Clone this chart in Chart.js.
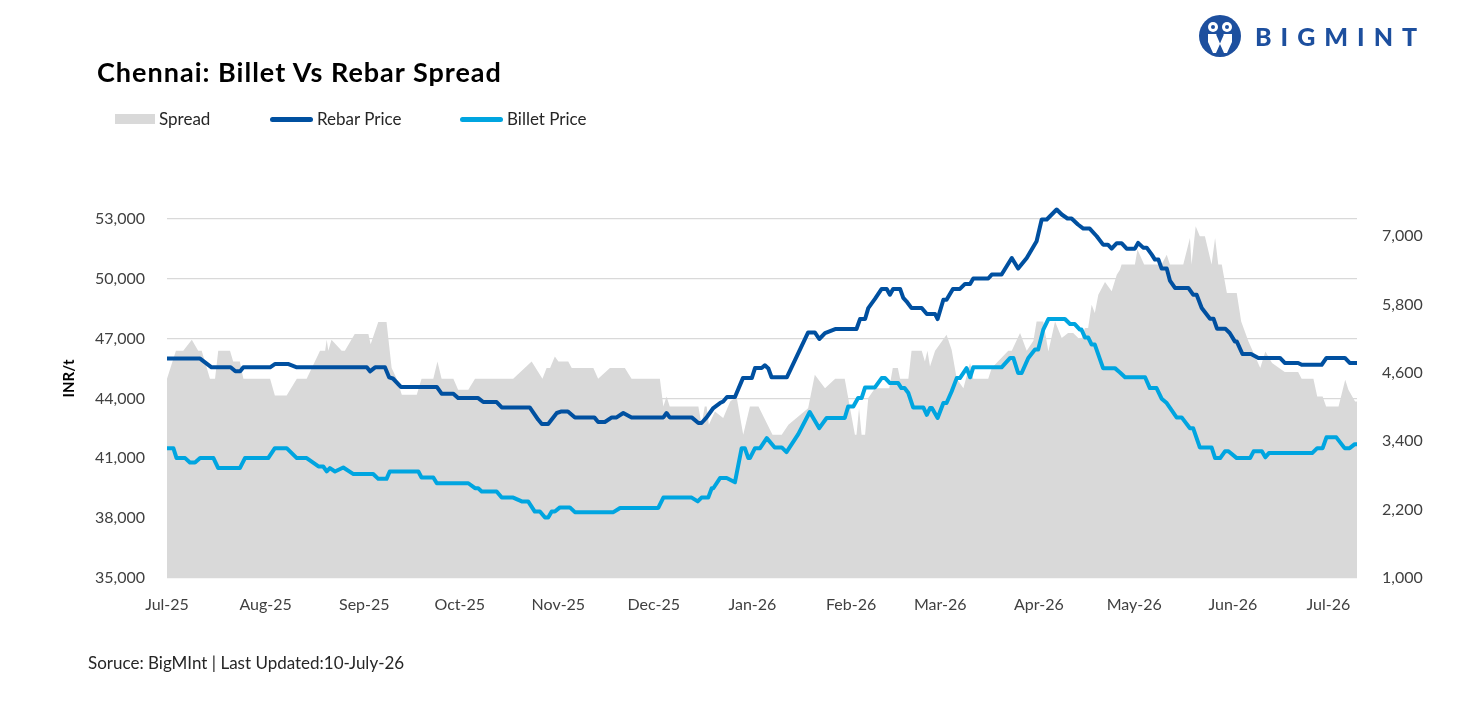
<!DOCTYPE html>
<html>
<head>
<meta charset="utf-8">
<script src="https://cdn.jsdelivr.net/npm/chart.js@4.4.1/dist/chart.umd.min.js"></script>
<style>
  body { margin: 0; background: #fff; font-family: Lato, sans-serif; color: #000; }
  #wrap { position: relative; width: 1484px; height: 701px; overflow: hidden; }
  #chart { position: absolute; left: 0; top: 0; }
  #title { position: absolute; left: 97px; top: 56px; font-size: 27px; line-height: 32px; letter-spacing: 1px; font-weight: bold; white-space: nowrap; }
  #legend { position: absolute; left: 115px; top: 109px; display: flex; font-size: 17px; line-height: 20px; color: #262626; }
  .item { display: flex; align-items: center; }
  .item .sw { margin-right: 4px; }
  #source { position: absolute; left: 88px; top: 652px; font-size: 17px; line-height: 21px; color: #262626; white-space: nowrap; }
  #logo { position: absolute; left: 1199px; top: 15px; display: flex; align-items: center; }
  #logo span { margin-left: 14px; font-size: 25px; font-weight: 900; letter-spacing: 9px; color: #1d4f9e; }
</style>
</head>
<body>
<div id="wrap">
  <canvas id="chart" width="1484" height="701"></canvas>
  <div id="title">Chennai: Billet Vs Rebar Spread</div>
  <div id="legend"></div>
  <div id="source">Soruce: BigMInt | Last Updated:10-July-26</div>
  <div id="logo">
    <svg width="42" height="42" viewBox="0 0 42 42">
      <circle cx="21" cy="21" r="21" fill="#1d4f9e"/>
      <circle cx="14" cy="12" r="5" fill="#fff"/>
      <circle cx="28" cy="12" r="5" fill="#fff"/>
      <circle cx="14" cy="12" r="2" fill="#1d4f9e"/>
      <circle cx="28" cy="12" r="2" fill="#1d4f9e"/>
      <path d="M9 19 h9 l3 7 l3 -7 h9 v8 l-5 11 h-3 l-4 -9 l-4 9 h-3 l-5 -11 z" fill="#fff"/>
      <path d="M18 19 l3 7 l3 -7" stroke="#1d4f9e" stroke-width="2" fill="none"/>
    </svg>
    <span>BIGMINT</span>
  </div>
</div>
<script>
// asse x: giorni dal 1 luglio 2025
const START = Date.UTC(2025, 6, 1);
const dayOf = s => Math.round((Date.parse(s) - START) / 86400000);

const monthStarts = ['2025-07-01','2025-08-01','2025-09-01','2025-10-01','2025-11-01','2025-12-01',
  '2026-01-01','2026-02-01','2026-03-01','2026-04-01','2026-05-01','2026-06-01','2026-07-01'];
const monthLabels = ['Jul-25','Aug-25','Sep-25','Oct-25','Nov-25','Dec-25',
  'Jan-26','Feb-26','Mar-26','Apr-26','May-26','Jun-26','Jul-26'];
const lastDate = '2026-07-10';

const leftTicks = [35000, 38000, 41000, 44000, 47000, 50000, 53000];
const rightTicks = [1000, 2200, 3400, 4600, 5800, 7000];

// Rebar Price (INR/t)
const rebarDays = [0,10.4,14,20,21.5,23,24,32.4,34,38,40.8,62.8,63.8,65.4,68.5,69.8,71,73.5,84.8,86.3,
  90,91.5,97.8,99.4,103.6,105.2,114,116.7,117.8,119.8,122.5,124,126,128.2,134.3,135.5,137.6,139.8,141.3,143.4,
  146,156,157,158,164.9,167,168,169.6,171.7,173.8,174.8,176,178.5,181,183.8,184.8,186.9,187.9,189,190,
  194.8,201.5,203.6,205,206.8,210,216.7,217.8,219.4,220.4,222.5,224.6,226.2,227.2,228.2,230.4,231.4,232.4,234,237.2,
  238.8,241.4,242.2,244,245,247,249.2,250.8,252.4,253.4,258.1,259.2,262.3,265.5,267.5,270.2,273.3,274.9,276.5,279.6,
  281.2,283,284.3,286.3,288,290,292.2,294.2,295.7,296.9,298.5,300,301.6,304.2,305.2,306.8,307.9,309.5,310.5,311.6,
  312.6,314.2,315.2,316.8,321,322.5,323.6,325.2,327.8,328.9,330,332.6,334,335.6,336.2,338,340.7,343,349.8,351.3,
  355.5,356.6,362.9,364.4,370.2,371.7,374];
const rebarPrice = [46000,46000,45560,45560,45360,45360,45560,45560,45730,45730,45560,45560,45360,45560,45560,45060,45000,44580,44580,44240,
  44240,44020,44020,43820,43820,43550,43550,42930,42720,42720,43270,43350,43350,43050,43050,42820,42820,43050,43050,43270,
  43050,43050,43270,43050,43050,42770,42770,43050,43520,43770,43850,44070,44070,45020,45020,45525,45525,45660,45500,45060,
  45060,47310,47310,46980,47280,47480,47480,47980,47980,48530,48990,49490,49490,49200,49490,49490,49040,48870,48530,48530,
  48230,48230,47980,48950,48950,49490,49490,49740,49740,50010,50010,50210,50210,51040,50510,51040,51880,52970,52970,53470,
  53220,53020,53020,52720,52515,52515,52130,51710,51710,51510,51780,51780,51510,51510,51800,51560,51560,51210,50960,50960,
  50510,50510,49910,49540,49540,49200,49200,48530,48000,48000,47500,47500,47280,46860,46860,46230,46230,46030,46030,45780,
  45780,45690,45690,46030,46030,45780,45780];

// Billet Price (INR/t)
const billetDays = [0,2,3,5.7,7.2,8.8,10.4,14.6,16.1,22.9,24.5,31.8,33.9,37.6,40.8,43.9,47.6,49.1,50.2,51.2,
  52.8,55.4,58.6,64.8,66.4,69,70,79,80,83.7,84.8,94.7,96.8,97.8,98.9,103.6,105.2,108.8,111.5,113.5,
  115.6,117.2,118.8,119.8,120.9,121.9,123.5,126.6,128.2,140.3,142.4,154.4,156,164.9,166.8,168,170.1,171.2,171.7,173.8,
  175.9,178.5,180.6,181.6,182.7,183.2,184.8,186.4,188.5,191,193.2,194.7,198.4,202,205,207.3,213,214.1,215.7,217.2,
  218.3,219.4,222.5,224.6,225.7,227.2,229.8,230.8,231.8,233,234.5,237.7,238.8,239.8,240.4,242.2,244,245,246.6,248.2,
  249.2,251.3,252.4,253.4,262.3,265,266,267.5,268.6,270.7,272.8,273.8,275.4,277,282.2,283.8,285.3,286.9,287.4,288.5,
  289.5,290.6,291.6,294.2,297.9,299.5,301.1,307.4,308.9,311,312.6,314.2,317.3,318.9,321.5,322.5,324.6,328.3,329.4,331,
  332.5,333.6,336.2,340.4,341.5,344.1,345.2,346.3,359.9,361.5,363.2,364.4,367.5,370.1,371.7,373.3,374];
const billetPrice = [41510,41510,41010,41010,40790,40790,41010,41010,40510,40510,41010,41010,41510,41510,41010,41010,40590,40590,40340,40510,
  40340,40540,40210,40210,39970,39970,40340,40340,40040,40040,39750,39750,39500,39500,39340,39340,39030,39030,38840,38840,
  38330,38330,38030,38030,38330,38330,38540,38540,38300,38300,38510,38510,39030,39030,38840,39030,39030,39500,39500,40010,
  40010,39800,41510,41510,41010,41010,41510,41510,42010,41545,41545,41310,42210,43320,42510,43020,43020,43600,43600,44020,
  44020,44555,44555,45020,45020,44770,44770,44520,44520,44270,43550,43550,43180,43520,43520,43020,43770,43770,44350,45020,
  45020,45520,45060,45560,45560,46030,46030,45275,45275,46030,46450,46450,47450,47980,47980,47730,47730,47450,47450,47060,
  47060,46700,46700,45520,45520,45300,45060,45060,44520,44520,43990,43770,43050,43050,42510,42510,41545,41545,41010,41010,
  41350,41350,41010,41010,41350,41350,41050,41260,41260,41510,41510,42050,42050,41510,41510,41710,41710];

// Spread (asse destro)
const spreadDays = [0,2.8,5.1,7.8,9.8,10.9,13.5,15.1,16.1,19.8,20.8,22.9,24,32.4,33.9,37.6,40.8,43.9,48.1,49.7,
  50.2,50.7,51.7,54.9,55.9,59,63.3,64,66.4,69,70.6,72.2,73.8,78.5,80,83.7,85,86.3,90,91.5,
  94.7,96.8,108.8,114.6,118,119.3,120.4,121.9,123,126.1,127.2,134,135.5,139.2,143.9,146,154.9,156,157,158,
  167,168,169,169.6,170.3,172.2,174.8,177,179,181.1,183.2,185.9,190.3,193.2,195.3,198.4,201.5,203.6,206.8,210,
  213,216.2,216.7,217.5,218.3,219.4,220.4,222.5,227,228.1,229.7,230.4,233,234,237.2,238.2,239,239.8,241.4,243.5,
  245,246.6,248.2,250.3,252.4,253.4,258.1,259.2,264.4,265.5,268.1,270.2,272.3,273.3,275.4,277,279.1,281.2,283.2,284.8,
  286.4,287.5,288.5,289.5,290.6,291.6,292.7,294.8,296.9,298.5,299.5,300,304.2,305,307.1,312.6,314.2,315.2,319.4,321.5,
  322,323.3,324.6,326.2,328.3,329.4,330.4,331.5,333.1,336.2,337.6,339.9,343.6,345.2,347.3,351.3,355.5,356.6,360.3,361.5,
  363.2,364.3,368.2,370.3,371.3,373.4,374];
const spreadValue = [4495,4987,4987,5180,4987,4987,4495,4495,4987,4987,4800,4800,4495,4495,4203,4203,4495,4495,4987,4987,
  5180,4987,5180,4987,4987,5280,5280,5100,5490,5490,4683,4495,4214,4214,4495,4495,4800,4495,4495,4302,
  4302,4495,4495,4800,4495,4683,4683,4888,4800,4800,4683,4683,4495,4683,4683,4495,4495,4009,4185,4009,
  4009,3687,4009,4009,3687,3922,3805,4097,4185,3512,4009,4009,3512,3512,3687,3834,3980,4566,4331,4495,
  4495,3512,3512,3980,3512,3512,4156,4331,4331,4683,4683,4495,4495,4987,4987,4800,4987,4712,4987,5151,
  5268,5005,4495,4331,4770,4495,4495,4683,4987,4987,5297,4987,5163,5502,5502,4975,5502,5210,5297,5297,
  5210,5210,5385,5385,5795,5649,5971,6193,6029,6322,6410,6498,6498,6761,6498,6498,6673,6498,6498,6966,
  6498,7171,6995,6995,6498,6966,6498,6498,6000,6000,5502,5151,4683,4975,4770,4612,4612,4495,4495,4185,
  4185,4009,4009,4478,4302,4097,4097];

const toPoints = (days, vals) => days.map((d, i) => ({ x: d, y: vals[i] }));
const fmt = v => Number(v).toLocaleString('en-US');

Chart.defaults.font.family = 'Lato';
Chart.defaults.color = '#404040';

const datasets = [
  { label: 'Spread', data: toPoints(spreadDays, spreadValue), yAxisID: 'y1', fill: 'start',
    backgroundColor: '#d9d9d9', borderColor: '#d9d9d9', borderWidth: 0, pointRadius: 0, order: 3 },
  { label: 'Rebar Price', data: toPoints(rebarDays, rebarPrice), yAxisID: 'y', fill: false,
    borderColor: '#0050a0', borderWidth: 4, pointRadius: 0, order: 1 },
  { label: 'Billet Price', data: toPoints(billetDays, billetPrice), yAxisID: 'y', fill: false,
    borderColor: '#00a5e0', borderWidth: 4, pointRadius: 0, order: 2 }
];

new Chart(document.getElementById('chart').getContext('2d'), {
  type: 'line',
  data: { datasets: datasets },
  options: {
    responsive: false,
    animation: false,
    layout: { padding: { top: 179, bottom: 83, left: 0, right: 0 } },
    elements: { line: { tension: 0, borderJoinStyle: 'round', borderCapStyle: 'round' } },
    plugins: { legend: { display: false }, tooltip: { enabled: false } },
    scales: {
      x: {
        type: 'linear', min: 0, max: dayOf(lastDate),
        grid: { display: false }, border: { display: false },
        afterBuildTicks: s => { s.ticks = monthStarts.map(d => ({ value: dayOf(d) })); },
        afterFit: s => { s.height = 40; },
        ticks: { autoSkip: false, maxRotation: 0, padding: 9, font: { size: 16 },
          callback: (v, i) => monthLabels[i] }
      },
      y: {
        position: 'left', min: 35000, max: 55000,
        grid: { color: '#d9d9d9', lineWidth: 1.3, drawTicks: false }, border: { display: false },
        afterBuildTicks: s => { s.ticks = leftTicks.map(v => ({ value: v })); },
        afterFit: s => { s.width = 167; },
        ticks: { padding: 22, font: { size: 16 }, callback: v => fmt(v) },
        title: { display: true, text: 'INR/t', color: '#000', font: { size: 15, weight: 'bold' }, padding: { top: 60, bottom: 0 } }
      },
      y1: {
        position: 'right', min: 1000, max: 8000,
        grid: { display: false, drawTicks: false }, border: { display: false },
        afterBuildTicks: s => { s.ticks = rightTicks.map(v => ({ value: v })); },
        afterFit: s => { s.width = 127; },
        ticks: { padding: 25, font: { size: 16 }, callback: v => fmt(v) }
      }
    }
  }
});

// legenda html
const legend = document.getElementById('legend');
const itemWidths = [155, 190, 140];
datasets.forEach((ds, i) => {
  const item = document.createElement('div');
  item.className = 'item';
  item.style.width = itemWidths[i] + 'px';
  const sw = document.createElement('span');
  sw.className = 'sw';
  if (ds.fill) {
    sw.style.cssText = 'width:40px;height:10px;background:' + ds.backgroundColor;
  } else {
    sw.style.cssText = 'width:43px;height:5px;border-radius:3px;background:' + ds.borderColor;
  }
  const txt = document.createElement('span');
  txt.textContent = ds.label;
  item.appendChild(sw);
  item.appendChild(txt);
  legend.appendChild(item);
});
</script>
</body>
</html>
